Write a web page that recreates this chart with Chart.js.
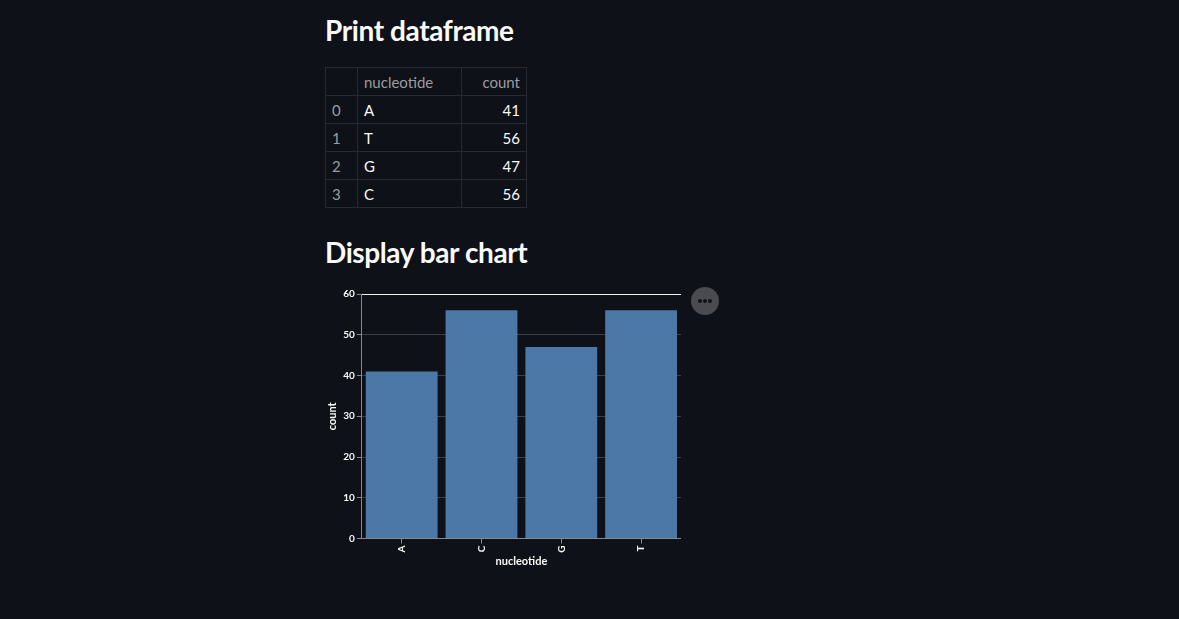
<!DOCTYPE html>
<html>
<head>
<meta charset="utf-8">
<script src="https://cdn.jsdelivr.net/npm/chart.js@4.4.0/dist/chart.umd.min.js"></script>
<style>
  html, body { margin: 0; padding: 0; background: #0e1117; width: 1179px; height: 619px; overflow: hidden; }
  body { position: relative; font-family: Lato, "Noto Sans", sans-serif; color: #fafafa; }
  h2 { position: absolute; margin: 0; font-weight: 700; font-size: 28px; left: 325px; line-height: 1; letter-spacing: -0.4px; }
  #h1 { top: 16px; }
  #h2 { top: 238px; }
  table { position: absolute; left: 325px; top: 67px; border-collapse: collapse; font-size: 15px; }
  td, th { border: 1px solid #262a33; height: 27px; padding: 0 6px; font-weight: 400; }
  th { color: #9a9ca3; text-align: left; }
  td.idx { color: #9a9ca3; width: 19px; }
  td.nuc { width: 91px; }
  td.cnt, th.cnt { text-align: right; width: 52px; }
  #wrap { position: absolute; left: 326px; top: 286px; }
  #more { position: absolute; left: 691px; top: 287px; width: 28px; height: 28px; border-radius: 50%; background: #4a4b51; }
  #more span { position: absolute; top: 12px; width: 4px; height: 4px; border-radius: 50%; background: #0e1117; }
</style>
</head>
<body>
<h2 id="h1">Print dataframe</h2>
<table id="tbl"></table>
<h2 id="h2">Display bar chart</h2>
<div id="wrap"><canvas id="c" width="355" height="282"></canvas></div>
<div id="more"><span style="left:7px"></span><span style="left:12px"></span><span style="left:17px"></span></div>
<script>
// Table data
const tableIndex = [0, 1, 2, 3];
const tableNucleotides = ['A', 'T', 'G', 'C'];
const tableCounts = [41, 56, 47, 56];

// Chart data (sorted categories as shown on the x axis)
const categories = ['A', 'C', 'G', 'T'];
const counts = [41, 56, 47, 56];
const yTicks = [0, 10, 20, 30, 40, 50, 60];

// Build table
const tbl = document.getElementById('tbl');
let html = '<tr><th class="idx"></th><th>nucleotide</th><th class="cnt">count</th></tr>';
tableIndex.forEach((ix, i) => {
  html += `<tr><td class="idx">${ix}</td><td class="nuc">${tableNucleotides[i]}</td><td class="cnt">${tableCounts[i]}</td></tr>`;
});
tbl.innerHTML = html;

Chart.defaults.font.family = 'Lato, "Noto Sans", sans-serif';
new Chart(document.getElementById('c'), {
  type: 'bar',
  data: {
    labels: categories,
    datasets: [{
      data: counts,
      backgroundColor: '#4c78a8',
      borderWidth: 0,
      categoryPercentage: 0.9,
      barPercentage: 1.0
    }]
  },
  options: {
    responsive: false,
    animation: false,
    layout: { padding: { top: 4, right: 0, bottom: 0, left: 0 } },
    plugins: { legend: { display: false }, tooltip: { enabled: false } },
    scales: {
      x: {
        grid: { display: true, drawOnChartArea: false, offset: false, color: '#888', tickLength: 5 },
        border: { color: '#888' },
        ticks: { color: '#fafafa', font: { size: 10, weight: 'bold' }, minRotation: 90, maxRotation: 90, padding: 2 },
        title: { display: true, text: 'nucleotide', color: '#fafafa', font: { size: 11, weight: 'bold' }, padding: { top: 0, bottom: 0 } }
      },
      y: {
        min: 0, max: 60,
        afterBuildTicks: (s) => { s.ticks = yTicks.map(v => ({ value: v })); },
        grid: {
          color: (ctx) => (ctx.tick && ctx.tick.value === 60) ? '#f0f0f0' : '#3b3e46',
          tickColor: '#888', tickLength: 5
        },
        border: { color: '#888' },
        ticks: { color: '#fafafa', font: { size: 10, weight: 'bold' }, padding: 2 },
        title: { display: true, text: 'count', color: '#fafafa', font: { size: 11, weight: 'bold' }, padding: { top: 0, bottom: 2 } }
      }
    }
  }
});
</script>
</body>
</html>
